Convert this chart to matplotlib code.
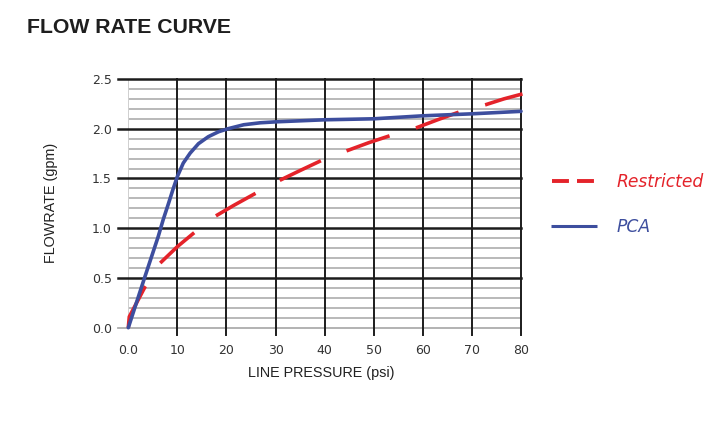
import matplotlib
matplotlib.use('Agg')
import matplotlib.pyplot as plt
from matplotlib.lines import Line2D

# ---------------- data ----------------
pca_x = [0, 3.3, 6.1, 7.1, 8.2, 9.1, 10.0, 11.2, 12.6, 14.3, 16.3, 18.4, 20.3, 23.5, 26.9, 30.3,
         40, 50, 60, 70, 80]
pca_y = [0, 0.50, 0.917, 1.085, 1.25, 1.39, 1.52, 1.655, 1.755, 1.85, 1.92, 1.97, 2.00, 2.04, 2.06, 2.07,
         2.09, 2.10, 2.13, 2.15, 2.175]

res_x = [0, 0.2, 1.8, 3.4, 5.0, 6.5, 10.0, 13.3, 17.7, 21.5, 25.9, 30.8, 35.0, 39.3, 44.6, 49.0, 53.3,
         58.7, 63.0, 67.5, 72.7, 76.5, 80.3]
res_y = [0, 0.11, 0.26, 0.41, 0.53, 0.65, 0.815, 0.95, 1.12, 1.23, 1.35, 1.48, 1.58, 1.68, 1.78, 1.86, 1.93,
         2.01, 2.09, 2.17, 2.24, 2.30, 2.35]

x_ticks = [0, 10, 20, 30, 40, 50, 60, 70, 80]
x_tick_labels = ['0.0', '10', '20', '30', '40', '50', '60', '70', '80']
y_ticks = [0.0, 0.5, 1.0, 1.5, 2.0, 2.5]
y_tick_labels = ['0.0', '0.5', '1.0', '1.5', '2.0', '2.5']
y_minor = [round(i * 0.1, 1) for i in range(26)]

series_names = ['Restricted', 'PCA']

RED = '#e4232a'
BLUE = '#3d4e9e'
BLACK = '#1c1c1c'
GREY = '#adadad'

plt.rcParams['lines.scale_dashes'] = False

W, H = 722, 423
fig = plt.figure(figsize=(W / 100, H / 100), dpi=100)
L, R, T, B = 128.3, 521.0, 79.0, 327.7
ax = fig.add_axes([L / W, 1 - B / H, (R - L) / W, (B - T) / H])
ax.set_xlim(0, 80)
ax.set_ylim(0, 2.5)
for s in ax.spines.values():
    s.set_visible(False)

ax_h_px = B - T
ax_w_px = R - L

# grid: minor grey lines
for y in y_minor:
    if y in y_ticks:
        continue
    ax.axhline(y, color=GREY, lw=1.2, zorder=0.5)
# major horizontal lines (extend left like ticks)
for y in y_ticks:
    col = GREY if y == 0 else BLACK
    lw = 1.3 if y == 0 else 1.8
    ax.axhline(y, xmin=-10.5 / ax_w_px, xmax=1, color=col, lw=lw, zorder=0.8, clip_on=False)
# vertical lines
for x in x_ticks:
    if x == 0:
        ax.axvline(x, color='#cfcfcf', lw=0.7, zorder=0.7)
    else:
        ax.axvline(x, ymin=-7.5 / ax_h_px, ymax=1, color=BLACK, lw=1.4, zorder=0.9, clip_on=False)

ax.set_xticks(x_ticks, labels=x_tick_labels)
ax.set_yticks(y_ticks, labels=y_tick_labels)
ax.tick_params(axis='both', length=0, labelsize=9, labelcolor='#333333')
ax.tick_params(axis='y', pad=12)
ax.tick_params(axis='x', pad=12)

# data
ax.plot(res_x, res_y, color=RED, lw=2.6, dashes=(32.8, 19.8), solid_capstyle='butt',
        dash_capstyle='butt', zorder=3, clip_on=False, label=series_names[0])
ax.plot(pca_x, pca_y, color=BLUE, lw=2.6, solid_capstyle='round', solid_joinstyle='round',
        zorder=4, clip_on=False, label=series_names[1])

# axis labels
ax.set_xlabel('LINE PRESSURE (psi)', family='Liberation Sans', fontsize=10.4, color='#222222')
ax.xaxis.label.set_va('center')
ax.xaxis.set_label_coords((320.8 - L) / ax_w_px, (B - 372.5) / ax_h_px)
ax.set_ylabel('FLOWRATE (gpm)', family='Liberation Sans', fontsize=10.4, color='#222222')
ax.yaxis.label.set_va('center')
ax.yaxis.set_label_coords((51.5 - L) / ax_w_px, (B - 203.3) / ax_h_px)

# title
fig.text(27 / W, 1 - 33 / H, 'FLOW RATE CURVE', family='Liberation Sans', fontweight='bold',
         fontsize=15.3, color='#1e1e1e', va='baseline', ha='left')

# legend (manual)
fig.add_artist(Line2D([551.7 / W, 595 / W], [1 - 180.7 / H] * 2, transform=fig.transFigure,
                      color=RED, lw=2.8, dashes=(12.2, 5.8), dash_capstyle='butt'))
fig.add_artist(Line2D([551 / W, 597 / W], [1 - 225.5 / H] * 2, transform=fig.transFigure,
                      color=BLUE, lw=2.2, solid_capstyle='butt'))
fig.text(617 / W, 1 - 181.5 / H, series_names[0], color=RED, style='italic', fontsize=12.3,
         va='center', ha='left')
fig.text(617 / W, 1 - 226.5 / H, series_names[1], color=BLUE, style='italic', fontsize=12.3,
         va='center', ha='left')

fig.savefig('out.png', dpi=100, facecolor='white')
